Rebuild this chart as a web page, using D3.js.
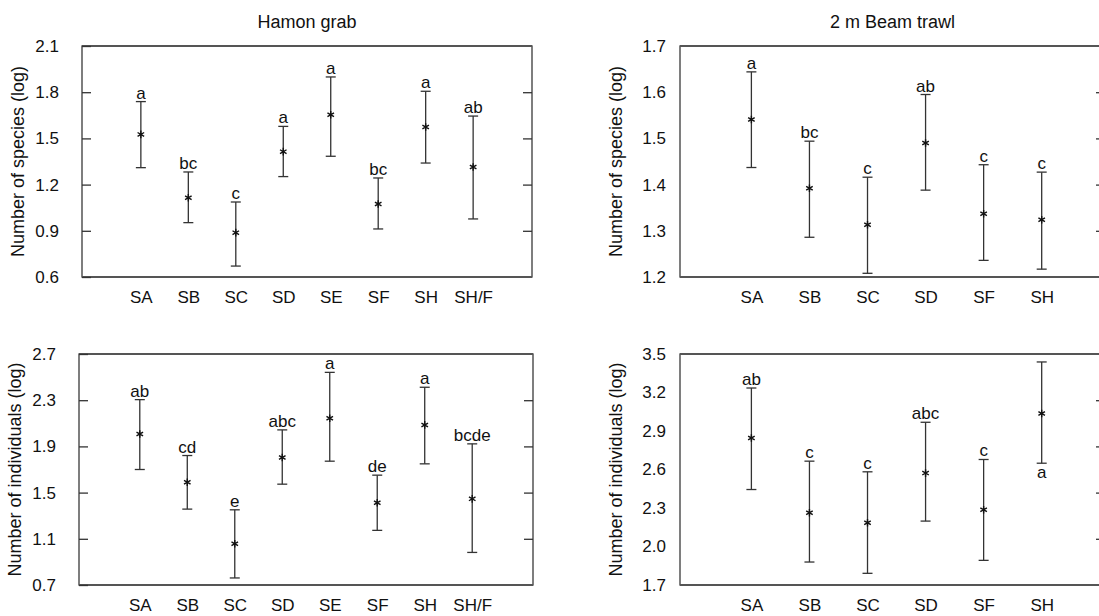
<!DOCTYPE html>
<html>
<head>
<meta charset="utf-8">
<script src="https://cdn.jsdelivr.net/npm/d3@7"></script>
<style>
  body { margin: 0; background: #fff; }
  text { font-family: "Liberation Sans", Arial, sans-serif; fill: #111; }
</style>
</head>
<body>
<div id="chart"></div>
<script>
// site names
const sitesGrab = ["SA", "SB", "SC", "SD", "SE", "SF", "SH", "SH/F"];
const sitesTrawl = ["SA", "SB", "SC", "SD", "SF", "SH"];

// Hamon grab - species
const grabSpMean = [1.526, 1.115, 0.888, 1.414, 1.654, 1.074, 1.574, 1.314];
const grabSpLow  = [1.310, 0.953, 0.671, 1.252, 1.384, 0.912, 1.340, 0.977];
const grabSpHigh = [1.739, 1.282, 1.087, 1.578, 1.899, 1.243, 1.806, 1.645];
const grabSpLetters = ["a", "bc", "c", "a", "a", "bc", "a", "ab"];

// Beam trawl - species
const trawlSpMean = [1.541, 1.392, 1.313, 1.490, 1.337, 1.324];
const trawlSpLow  = [1.437, 1.286, 1.208, 1.388, 1.236, 1.217];
const trawlSpHigh = [1.644, 1.494, 1.416, 1.595, 1.443, 1.427];
const trawlSpLetters = ["a", "bc", "c", "ab", "c", "c"];

// Hamon grab - individuals
const grabIndMean = [2.008, 1.590, 1.057, 1.804, 2.144, 1.412, 2.086, 1.446];
const grabIndLow  = [1.700, 1.357, 0.761, 1.573, 1.772, 1.173, 1.749, 0.982];
const grabIndHigh = [2.305, 1.821, 1.351, 2.043, 2.541, 1.651, 2.412, 1.922];
const grabIndLetters = ["ab", "cd", "e", "abc", "a", "de", "a", "bcde"];

// Beam trawl - individuals
const trawlIndMean = [2.846, 2.263, 2.185, 2.572, 2.286, 3.036];
const trawlIndLow  = [2.444, 1.879, 1.791, 2.198, 1.892, 2.649];
const trawlIndHigh = [3.235, 2.665, 2.582, 2.968, 2.678, 3.438];
const trawlIndLetters = ["ab", "c", "c", "abc", "c", "a"];
const trawlIndLetterBelow = [false, false, false, false, false, true];

// axis tick labels
const grabSpTicks = [0.6, 0.9, 1.2, 1.5, 1.8, 2.1];
const trawlSpTicks = [1.2, 1.3, 1.4, 1.5, 1.6, 1.7];
const grabIndTicks = [0.7, 1.1, 1.5, 1.9, 2.3, 2.7];
const trawlIndTicks = [1.7, 2.0, 2.3, 2.6, 2.9, 3.2, 3.5];

const W = 1099, H = 616;
const svg = d3.select("#chart").append("svg")
    .attr("width", W)
    .attr("height", H);

const panels = [
  { x0: 82, x1: 532, y0: 46, y1: 277, sites: sitesGrab, mean: grabSpMean, low: grabSpLow, high: grabSpHigh,
    letters: grabSpLetters, ticks: grabSpTicks, pad: 1.24, align: 0.5, leftTicks: true,
    ytitle: "Number of species (log)", title: "Hamon grab" },
  { x0: 680, x1: 1105, y0: 46, y1: 277, sites: sitesTrawl, mean: trawlSpMean, low: trawlSpLow, high: trawlSpHigh,
    letters: trawlSpLetters, ticks: trawlSpTicks, pad: 1.16, align: 0.53, leftTicks: false,
    ytitle: "Number of species (log)", title: "2 m Beam trawl" },
  { x0: 79, x1: 533, y0: 354, y1: 585, sites: sitesGrab, mean: grabIndMean, low: grabIndLow, high: grabIndHigh,
    letters: grabIndLetters, ticks: grabIndTicks, pad: 1.28, align: 0.5, leftTicks: true,
    ytitle: "Number of individuals (log)" },
  { x0: 680, x1: 1105, y0: 354, y1: 585, sites: sitesTrawl, mean: trawlIndMean, low: trawlIndLow, high: trawlIndHigh,
    letters: trawlIndLetters, below: trawlIndLetterBelow, ticks: trawlIndTicks, pad: 1.16, align: 0.53, leftTicks: false,
    ytitle: "Number of individuals (log)" }
];

const star = d3.symbol().type(d3.symbolAsterisk).size(40);

panels.forEach(p => {
  const g = svg.append("g");
  const x = d3.scalePoint().domain(p.sites).range([p.x0, p.x1]).padding(p.pad).align(p.align);
  const dom = d3.extent(p.ticks);
  const y = d3.scaleLinear().domain(dom).range([p.y1, p.y0]);

  // frame: heavier grey top/bottom, thinner sides
  g.append("rect")
      .attr("x", p.x0).attr("y", p.y0)
      .attr("width", p.x1 - p.x0).attr("height", p.y1 - p.y0)
      .attr("fill", "none").attr("stroke", "#3a3a3a").attr("stroke-width", 1.3);
  g.append("g").selectAll("line").data([p.y0, p.y1]).join("line")
      .attr("x1", p.x0).attr("x2", p.x1)
      .attr("y1", d => d).attr("y2", d => d)
      .attr("stroke", "#555").attr("stroke-width", 2);

  // left tick labels (and inward ticks on the grab panels)
  const left = g.append("g")
      .attr("transform", `translate(${p.x0},0)`)
      .call(d3.axisLeft(y).tickValues(p.ticks).tickSize(p.leftTicks ? -9 : 0).tickPadding(p.leftTicks ? 23 : 14)
        .tickFormat(d3.format(".1f")));
  left.select(".domain").remove();
  left.selectAll("line").attr("stroke", "#333").attr("stroke-width", 1.3);
  left.selectAll("text").attr("font-size", "17px").attr("font-family", "Liberation Sans, Arial, sans-serif").attr("fill", "#111");

  // right side inner ticks, five equal divisions
  const step = (dom[1] - dom[0]) / 5;
  const right = g.append("g")
      .attr("transform", `translate(${p.x1},0)`)
      .call(d3.axisRight(y).tickValues(d3.range(1, 5).map(i => dom[0] + i * step)).tickSize(-9).tickFormat(""));
  right.select(".domain").remove();
  right.selectAll("line").attr("stroke", "#333").attr("stroke-width", 1.3);

  // x labels
  const bottom = g.append("g")
      .attr("transform", `translate(0,${p.y1})`)
      .call(d3.axisBottom(x).tickSize(0).tickPadding(14));
  bottom.select(".domain").remove();
  bottom.selectAll("text").attr("font-size", "17px").attr("font-family", "Liberation Sans, Arial, sans-serif")
      .attr("fill", "#111").attr("dy", "0.71em");

  // y axis title
  g.append("text")
      .attr("transform", `translate(${p.x0 - 58},${(p.y0 + p.y1) / 2}) rotate(-90)`)
      .attr("text-anchor", "middle")
      .attr("font-size", "18px")
      .text(p.ytitle);

  if (p.title) {
    g.append("text")
        .attr("x", (p.x0 + p.x1) / 2).attr("y", 28)
        .attr("text-anchor", "middle")
        .attr("font-size", "18px")
        .text(p.title);
  }

  const idx = d3.range(p.sites.length);
  const bars = g.append("g").selectAll("g").data(idx).join("g")
      .attr("stroke", "#333").attr("stroke-width", 1.3);
  bars.append("line")
      .attr("x1", i => x(p.sites[i])).attr("x2", i => x(p.sites[i]))
      .attr("y1", i => y(p.low[i])).attr("y2", i => y(p.high[i]));
  bars.append("line")
      .attr("x1", i => x(p.sites[i]) - 5).attr("x2", i => x(p.sites[i]) + 5)
      .attr("y1", i => y(p.high[i])).attr("y2", i => y(p.high[i]));
  bars.append("line")
      .attr("x1", i => x(p.sites[i]) - 5).attr("x2", i => x(p.sites[i]) + 5)
      .attr("y1", i => y(p.low[i])).attr("y2", i => y(p.low[i]));

  g.append("g").selectAll("path").data(idx).join("path")
      .attr("d", star)
      .attr("transform", i => `translate(${x(p.sites[i])},${y(p.mean[i])})`)
      .attr("fill", "none").attr("stroke", "#111").attr("stroke-width", 1.4);

  g.append("g").selectAll("text").data(idx).join("text")
      .attr("x", i => x(p.sites[i]))
      .attr("y", i => (p.below && p.below[i]) ? y(p.low[i]) + 15 : y(p.high[i]) - 3)
      .attr("text-anchor", "middle")
      .attr("font-size", "17px")
      .text(i => p.letters[i]);
});
</script>
</body>
</html>
